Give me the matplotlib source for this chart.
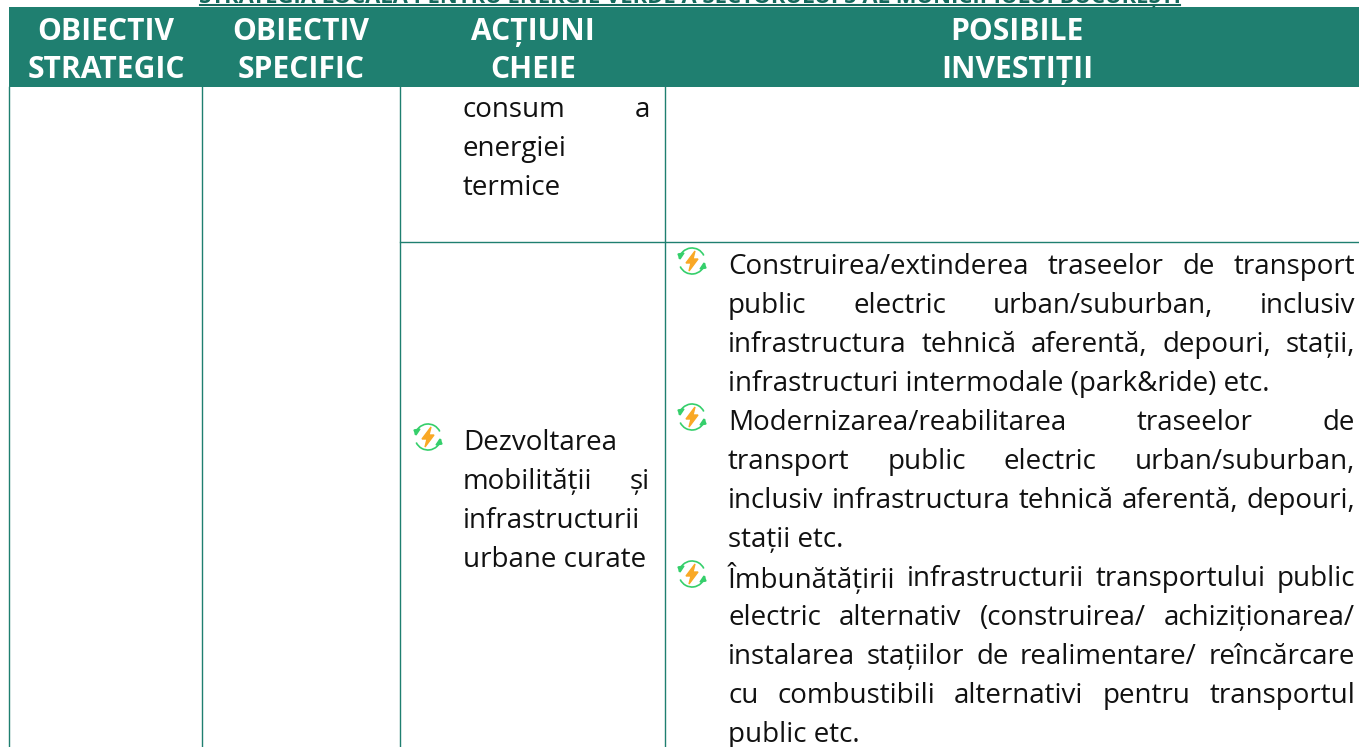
import matplotlib
matplotlib.use('Agg')
import matplotlib.pyplot as plt
import matplotlib.patches as patches

W, H = 1359, 747
FONT = 'Open Sans'
GREEN = '#1f7f70'
BODY_PX = 27.8
HEAD_PX = 30

title = 'STRATEGIA LOCALĂ PENTRU ENERGIE VERDE A SECTORULUI 5 AL MUNICIPIULUI BUCUREȘTI'

# header cells: center x, two lines
headers = [(106, 'OBIECTIV', 'STRATEGIC'),
           (301, 'OBIECTIV', 'SPECIFIC'),
           (533, 'ACȚIUNI', 'CHEIE'),
           (1017, 'POSIBILE', 'INVESTIȚII')]

# (text, justified)
action_top = [('consum a', True), ('energiei', False), ('termice', False)]
action_mob = [('Dezvoltarea', False), ('mobilității și', True),
              ('infrastructurii', False), ('urbane curate', False)]
invest = [
    ('Construirea/extinderea traseelor de transport', True),
    ('public electric urban/suburban, inclusiv', True),
    ('infrastructura tehnică aferentă, depouri, stații,', True),
    ('infrastructuri intermodale (park&ride) etc.', False),
    ('Modernizarea/reabilitarea traseelor de', True),
    ('transport public electric urban/suburban,', True),
    ('inclusiv infrastructura tehnică aferentă, depouri,', True),
    ('stații etc.', False),
    ('Îmbunătățirii infrastructurii transportului public', True),
    ('electric alternativ (construirea/ achiziționarea/', True),
    ('instalarea stațiilor de realimentare/ reîncărcare', True),
    ('cu combustibili alternativi pentru transportul', True),
    ('public etc.', False),
]

fig = plt.figure(figsize=(W / 100, H / 100), dpi=100)
ax = fig.add_axes([0, 0, 1, 1])
ax.set_xlim(0, W)
ax.set_ylim(H, 0)
ax.axis('off')


def px(size):
    return size * 72 / 100


def word_width(word, size):
    t = ax.text(0, 0, word, fontsize=px(size), family=FONT)
    w = t.get_window_extent(fig.canvas.get_renderer()).width
    t.remove()
    return w


def draw_line(text, x0, x1, y, justified):
    # word by word so the spacing can be stretched like justified text
    if not justified:
        ax.text(x0, y, text, fontsize=px(BODY_PX), family=FONT, color='#111111', va='center')
        return
    words = text.split(' ')
    widths = [word_width(w, BODY_PX) for w in words]
    gap = (x1 - x0 - sum(widths)) / (len(words) - 1)
    x = x0
    for w, ww in zip(words, widths):
        ax.text(x, y, w, fontsize=px(BODY_PX), family=FONT, color='#111111', va='center')
        x += ww + gap


def draw_icon(cx, cy):
    # round green arrows with an orange bolt
    r = 13
    ax.add_patch(patches.Arc((cx, cy), 2 * r, 2 * r, theta1=190, theta2=335, color='#35cf6b', lw=1.2))
    ax.add_patch(patches.Arc((cx, cy), 2 * r, 2 * r, theta1=10, theta2=155, color='#35cf6b', lw=1.2))
    ax.add_patch(patches.Polygon([(cx - 14, cy - 7), (cx - 8, cy - 8), (cx - 12, cy - 2)], color='#35cf6b'))
    ax.add_patch(patches.Polygon([(cx + 14, cy + 7), (cx + 8, cy + 8), (cx + 12, cy + 2)], color='#35cf6b'))
    bolt = [(cx + 3, cy - 10), (cx - 6, cy + 2), (cx - 1, cy + 2), (cx - 3, cy + 10), (cx + 6, cy - 2), (cx + 1, cy - 2)]
    ax.add_patch(patches.Polygon(bolt, color='#f9a825'))


# title is cut by the top of the page
ax.text(690, 3, title, fontsize=px(22), family=FONT, weight='bold', color='#14685c', ha='center', va='baseline')
ax.plot([200, 1180], [4.5, 4.5], color='#14685c', lw=1.5)

# header band
ax.add_patch(patches.Rectangle((9, 7), W - 9, 80, color=GREEN, lw=0))
for cx, a, b in headers:
    ax.text(cx, 32, a, fontsize=px(HEAD_PX), family=FONT, weight='bold', color='white', ha='center', va='center')
    ax.text(cx, 70, b, fontsize=px(HEAD_PX), family=FONT, weight='bold', color='white', ha='center', va='center')

# grid
for x in [9, 202, 400, 665]:
    ax.plot([x, x], [87, H], color=GREEN, lw=1)
ax.plot([400, W], [242, 242], color=GREEN, lw=1)

# middle column
for i, (s, j) in enumerate(action_top):
    draw_line(s, 463, 650, 110 + i * 39, j)
for i, (s, j) in enumerate(action_mob):
    draw_line(s, 463, 650, 443 + i * 39, j)
draw_icon(428, 437)

# right column
for i, (s, j) in enumerate(invest):
    draw_line(s, 728, 1355, 267 + i * 39, j)
for y in [261, 417, 574]:
    draw_icon(692, y)

fig.savefig('out.png', dpi=100)
